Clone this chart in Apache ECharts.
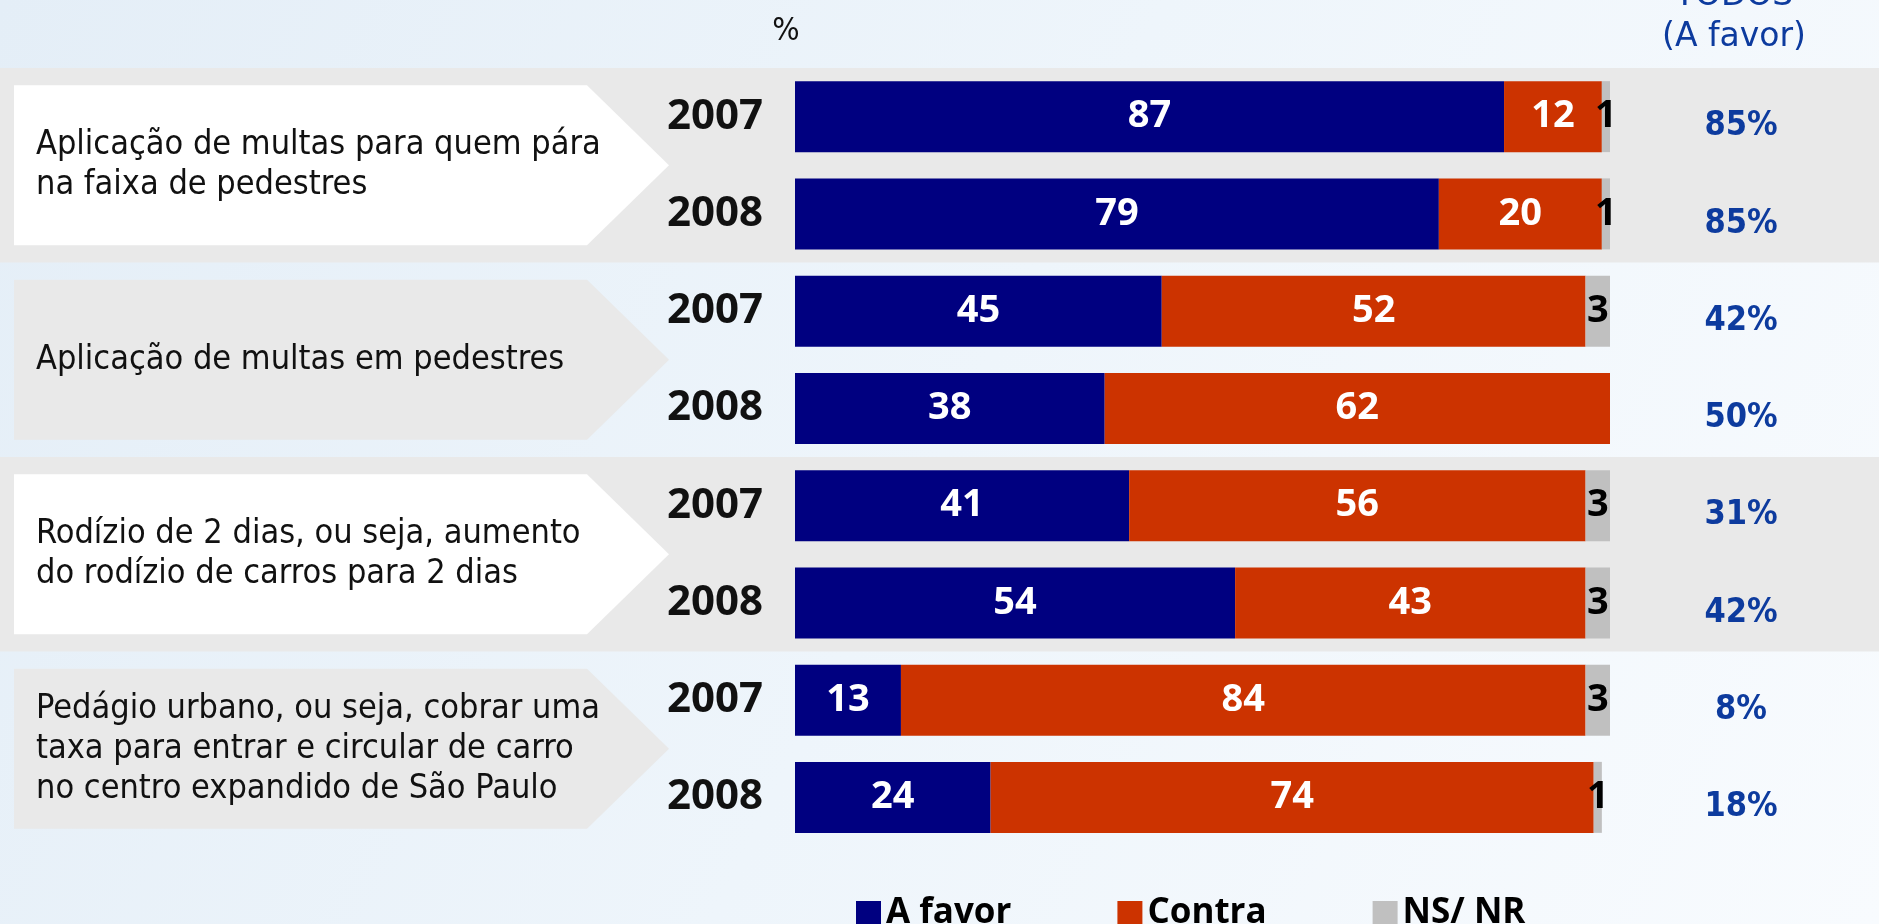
<!DOCTYPE html>
<html>
<head>
<meta charset="utf-8">
<title>Opinião sobre medidas de trânsito</title>
<style>
  html, body { margin: 0; padding: 0; background: #eef5fb; }
  #chart { width: 1879px; height: 924px; }
</style>
<script src="https://cdn.jsdelivr.net/npm/echarts@6/dist/echarts.min.js"></script>
</head>
<body>
<div id="chart"></div>
<script>
// topics, one per pair of rows (2007 / 2008)
const topics = [
    'Aplicação de multas para quem pára\nna faixa de pedestres',
    'Aplicação de multas em pedestres',
    'Rodízio de 2 dias, ou seja, aumento\ndo rodízio de carros para 2 dias',
    'Pedágio urbano, ou seja, cobrar uma\ntaxa para entrar e circular de carro\nno centro expandido de São Paulo'
];
const years = ['2007', '2008', '2007', '2008', '2007', '2008', '2007', '2008'];
const aFavor = [87, 79, 45, 38, 41, 54, 13, 24];
const contra = [12, 20, 52, 62, 56, 43, 84, 74];
const nsNr = [1, 1, 3, 0, 3, 3, 3, 1];
const todos = [85, 85, 42, 50, 31, 42, 8, 18];

const rows = years.map((y, i) => String(i));
const numFont = 'Open Sans';
const textFont = 'DejaVu Sans Condensed';

function barSeries(name, data, color, labelColor) {
    return {
        name: name,
        type: 'bar',
        stack: 'total',
        barWidth: 71,
        data: data,
        itemStyle: { color: color },
        label: {
            show: true,
            position: 'inside',
            color: labelColor,
            fontFamily: numFont,
            fontWeight: 'bold',
            fontSize: 38,
            formatter: p => (p.value > 0 ? p.value : '')
        }
    };
}

const chart = echarts.init(document.getElementById('chart'));

const option = {
    animation: false,
    backgroundColor: new echarts.graphic.LinearGradient(0, 0, 1, 1, [
        { offset: 0, color: '#e4eef7' },
        { offset: 0.5, color: '#eef5fb' },
        { offset: 1, color: '#f8fbfe' }
    ]),
    grid: { left: 795, top: 68, width: 815, height: 778, containLabel: false },
    xAxis: { type: 'value', min: 0, max: 100, show: false },
    yAxis: [
        {
            type: 'category',
            data: rows,
            inverse: true,
            axisLine: { show: false },
            axisTick: { show: false },
            axisLabel: {
                margin: 32,
                fontFamily: numFont,
                fontWeight: 'bold',
                fontSize: 42,
                color: '#111',
                formatter: (v, i) => years[i]
            }
        },
        {
            type: 'category',
            data: rows,
            inverse: true,
            position: 'right',
            axisLine: { show: false },
            axisTick: { show: false },
            axisLabel: {
                margin: 131,
                align: 'center',
                formatter: (v, i) => '{v|' + todos[i] + '%}',
                rich: {
                    v: {
                        fontFamily: textFont,
                        fontWeight: 'bold',
                        fontSize: 34,
                        color: '#0d3b9e',
                        padding: [20, 0, 0, 0]
                    }
                }
            }
        }
    ],
    legend: {
        data: ['A favor', 'Contra', 'NS/ NR'],
        left: 851,
        top: 891,
        icon: 'rect',
        itemWidth: 25,
        itemHeight: 25,
        itemGap: 106,
        textStyle: {
            fontFamily: numFont,
            fontWeight: 'bold',
            fontSize: 35,
            color: '#000'
        }
    },
    series: [
        barSeries('A favor', aFavor, '#000080', '#fff'),
        barSeries('Contra', contra, '#cc3300', '#fff'),
        barSeries('NS/ NR', nsNr, '#c0c0c0', '#000')
    ]
};
chart.setOption(option);

// bands, arrow boxes and header texts
const rowY = i => chart.convertToPixel({ yAxisIndex: 0 }, rows[i]);
const pitch = rowY(1) - rowY(0);
const elements = [];
topics.forEach((t, g) => {
    const y0 = rowY(2 * g) - pitch / 2;
    const y1 = rowY(2 * g + 1) + pitch / 2;
    const c = (y0 + y1) / 2;
    if (g % 2 === 0) {
        elements.push({
            type: 'rect', silent: true, z: -2,
            shape: { x: 0, y: y0, width: 1879, height: y1 - y0 },
            style: { fill: '#e9e9e9' }
        });
    }
    elements.push({
        type: 'polygon', silent: true, z: -1,
        shape: { points: [[14, c - 80], [587, c - 80], [669, c], [587, c + 80], [14, c + 80]] },
        style: { fill: g % 2 === 0 ? '#ffffff' : '#e9e9e9' }
    });
    elements.push({
        type: 'text', silent: true, z: 1, x: 36, y: c,
        style: {
            text: t, fill: '#111', align: 'left', verticalAlign: 'middle',
            font: '34px "' + textFont + '"', lineHeight: 40
        }
    });
});
elements.push({
    type: 'text', silent: true, x: 786, y: 32,
    style: { text: '%', fill: '#111', align: 'center', verticalAlign: 'middle', font: '32px "' + textFont + '"' }
});
elements.push({
    type: 'text', silent: true, x: 1734, y: -4,
    style: { text: 'TODOS', fill: '#0d3b9e', align: 'center', verticalAlign: 'middle', font: '33px "DejaVu Sans"' }
});
elements.push({
    type: 'text', silent: true, x: 1734, y: 37,
    style: { text: '(A favor)', fill: '#0d3b9e', align: 'center', verticalAlign: 'middle', font: '33px "DejaVu Sans"' }
});
chart.setOption({ graphic: { elements: elements } });
</script>
</body>
</html>
